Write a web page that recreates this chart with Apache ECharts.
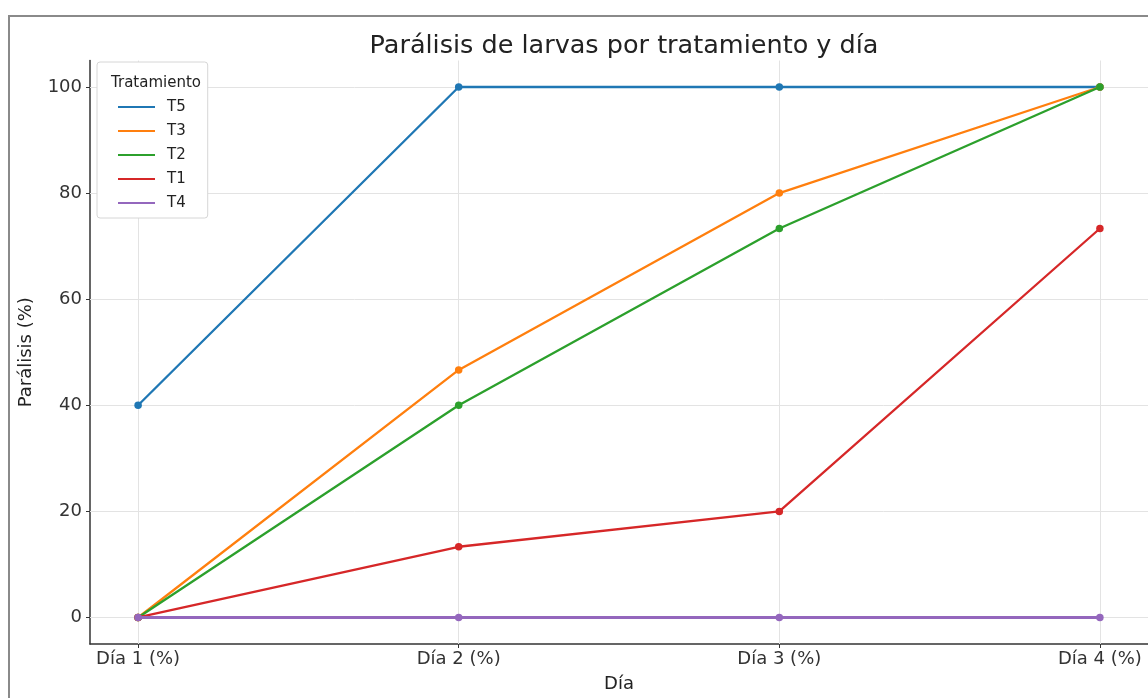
<!DOCTYPE html>
<html>
<head>
<meta charset="utf-8">
<script src="https://cdn.jsdelivr.net/npm/echarts@6/dist/echarts.min.js"></script>
<style>html,body{margin:0;padding:0;background:#fff}#c{width:1148px;height:698px}</style>
</head>
<body>
<div id="c"></div>
<script>
const categories = ['Día 1 (%)', 'Día 2 (%)', 'Día 3 (%)', 'Día 4 (%)'];
const seriesNames = ['T5', 'T3', 'T2', 'T1', 'T4'];
const T5 = [40, 100, 100, 100];
const T3 = [0, 46.67, 80, 100];
const T2 = [0, 40, 73.33, 100];
const T1 = [0, 13.33, 20, 73.33];
const T4 = [0, 0, 0, 0];
const yTicks = [0, 20, 40, 60, 80, 100];
const colors = ['#1f77b4', '#ff7f0e', '#2ca02c', '#d62728', '#9467bd'];
const values = [T5, T3, T2, T1, T4];

const font = 'DejaVu Sans';
const xIdx = categories.map((_, i) => i);
const chart = echarts.init(document.getElementById('c'));

const gridLines = {
  silent: true,
  symbol: 'none',
  label: { show: false },
  lineStyle: { color: '#e3e3e3', width: 1, type: 'solid' },
  data: xIdx.map(i => ({ xAxis: i })).concat(yTicks.map(v => ({ yAxis: v })))
};

const series = seriesNames.map((name, k) => ({
  name: name,
  type: 'line',
  data: values[k].map((v, i) => [i, v]),
  symbol: 'circle',
  symbolSize: 7.5,
  lineStyle: { width: k === 4 ? 3 : 2.3, color: colors[k] },
  itemStyle: { color: colors[k] },
  z: 3 + k,
  markLine: k === 0 ? Object.assign({ z: 1 }, gridLines) : undefined
}));

chart.setOption({
  animation: false,
  backgroundColor: '#fff',
  textStyle: { fontFamily: font },
  title: [
    { text: 'Parálisis de larvas por tratamiento y día', left: 619, top: 28, textAlign: 'center',
      textStyle: { fontFamily: font, fontSize: 25.5, fontWeight: 'normal', color: '#222' } },
    { text: 'Tratamiento', left: 151, top: 71, textAlign: 'center', z: 10,
      textStyle: { fontFamily: font, fontSize: 15, fontWeight: 'normal', color: '#222' } }
  ],
  graphic: [{
    type: 'rect', shape: { x: 9, y: 16, width: 1300, height: 900 }, silent: true,
    style: { fill: 'none', stroke: '#8a8a8a', lineWidth: 2 }, z: 0
  }],
  legend: {
    data: seriesNames,
    orient: 'vertical',
    left: 97, top: 62,
    padding: [33, 22, 3, 21],
    icon: 'rect',
    itemWidth: 37, itemHeight: 2, itemGap: 0,
    backgroundColor: '#fff',
    borderColor: '#d6d6d6', borderWidth: 1, borderRadius: 3,
    textStyle: { fontFamily: font, fontSize: 15, color: '#222', lineHeight: 24, padding: [0, 0, 0, 7] },
    z: 9
  },
  grid: { left: 90, right: -2, top: 60.5, bottom: 53.5, containLabel: false },
  xAxis: {
    type: 'value', min: -0.15, max: 3.15,
    name: 'Día', nameLocation: 'middle', nameGap: 31,
    nameTextStyle: { fontFamily: font, fontSize: 18, color: '#222' },
    axisLine: { show: true, onZero: false, lineStyle: { color: '#333', width: 1.5 } },
    axisTick: { show: true, length: 4, customValues: xIdx, lineStyle: { color: '#333' } },
    axisLabel: { customValues: xIdx, formatter: v => categories[Math.round(v)], margin: 6,
      fontFamily: font, fontSize: 18, color: '#333' },
    splitLine: { show: false }
  },
  yAxis: {
    type: 'value', min: -5, max: 105,
    name: 'Parálisis (%)', nameLocation: 'middle', nameGap: 55, nameRotate: 90,
    nameTextStyle: { fontFamily: font, fontSize: 18, color: '#222' },
    axisLine: { show: true, onZero: false, lineStyle: { color: '#333', width: 1.5 } },
    axisTick: { show: true, length: 4, customValues: yTicks, lineStyle: { color: '#333' } },
    axisLabel: { customValues: yTicks, margin: 8, fontFamily: font, fontSize: 18, color: '#333' },
    splitLine: { show: false }
  },
  series: series
});
</script>
</body>
</html>
